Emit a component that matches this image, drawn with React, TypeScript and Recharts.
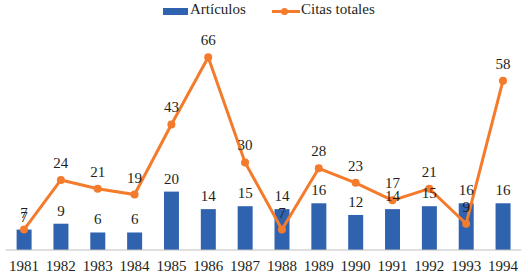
import React from 'react';
import {
  ComposedChart,
  Bar,
  Line,
  XAxis,
  YAxis,
  LabelList
} from 'recharts';

const years = ['1981', '1982', '1983', '1984', '1985', '1986', '1987', '1988', '1989', '1990', '1991', '1992', '1993', '1994'];
const articulos = [7, 9, 6, 6, 20, 14, 15, 14, 16, 12, 14, 15, 16, 16];
const citas = [7, 24, 21, 19, 43, 66, 30, 7, 28, 23, 17, 21, 9, 58];

const BLUE = '#2F63B0';
const ORANGE = '#F47B2C';
const TEXT = '#231F20';
const FONT = 'Liberation Serif, serif';

const data = years.map((y, i) => ({ year: y, articulos: articulos[i], citas: citas[i] }));

export default function App() {
  return (
    <div style={{ position: 'absolute', left: 0, top: 0, width: 528, height: 278, fontFamily: FONT }}>
      {/* leyenda */}
      <div style={{ position: 'absolute', left: 0, top: 0, width: 528, height: 24, fontSize: 15, color: TEXT }}>
        <div style={{ position: 'absolute', left: 163, top: 8, width: 25, height: 7, background: BLUE }} />
        <span style={{ position: 'absolute', left: 190, top: 1 }}>Artículos</span>
        <div style={{ position: 'absolute', left: 272, top: 10, width: 28, height: 3, background: ORANGE }} />
        <div style={{ position: 'absolute', left: 281, top: 8, width: 7, height: 7, borderRadius: 4, background: ORANGE }} />
        <span style={{ position: 'absolute', left: 301, top: 1 }}>Citas totales</span>
      </div>
      <ComposedChart
        width={528}
        height={278}
        data={data}
        margin={{ top: 45.6, right: 6.6, bottom: 0, left: 5.6 }}
      >
        <XAxis
          dataKey="year"
          height={28}
          tickLine={false}
          axisLine={{ stroke: '#BFBFBF', strokeWidth: 1 }}
          tick={{ fill: TEXT, fontSize: 15, fontFamily: FONT }}
          tickMargin={4}
          interval={0}
        />
        <YAxis hide domain={[0, 70]} />
        <Bar dataKey="articulos" fill={BLUE} barSize={15} isAnimationActive={false}>
          <LabelList dataKey="articulos" position="top" offset={8} fill={TEXT} fontSize={15} fontFamily={FONT} />
        </Bar>
        <Line
          dataKey="citas"
          stroke={ORANGE}
          strokeWidth={3}
          dot={{ r: 4, fill: ORANGE, stroke: ORANGE, strokeWidth: 0 }}
          activeDot={false}
          isAnimationActive={false}
        >
          <LabelList dataKey="citas" position="top" offset={12} fill={TEXT} fontSize={15} fontFamily={FONT} />
        </Line>
      </ComposedChart>
    </div>
  );
}
